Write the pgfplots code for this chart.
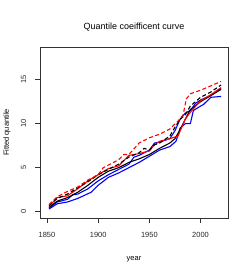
\documentclass[border=0pt]{standalone}
\usepackage{fontspec}
\setmainfont{Liberation Sans}
\usepackage{graphicx}
\usepackage{pgfplots}
\pgfplotsset{compat=1.18}
\begin{document}
\begin{tikzpicture}[x=1bp,y=1bp]
\path[use as bounding box] (0,0) rectangle (249,277);
\begin{axis}[
  at={(40bp,59bp)}, anchor=south west,
  scale only axis, width=188bp, height=171bp,
  xmin=1843.2, xmax=2026.8, ymin=-0.72, ymax=18.72,
  xtick={1850,1900,1950,2000}, ytick={0,5,10,15},
  tick pos=left, tick align=outside, major tick length=5bp,
  axis line style={draw=black!80, line width=0.7pt},
  every tick/.style={draw=black!80, line width=0.7pt},
  /pgf/number format/assume math mode=true,
  /pgf/number format/1000 sep={},
  ticklabel style={font=\fontsize{7.5}{9}\selectfont, text=black!85},
  yticklabel={\rotatebox{90}{\pgfmathprintnumber{\tick}}},
  yticklabel style={anchor=east, inner xsep=0pt, xshift=-8.5bp},
  xticklabel shift=6bp,
  every axis title shift=0pt,
  title={Quantile coeifficent curve},
  title style={at={(axis description cs:0.5,1)}, anchor=center, yshift=20bp, font=\fontsize{9}{11}\selectfont},
  xlabel={year},
  xlabel style={at={(axis description cs:0.5,0)}, anchor=center, yshift=-41bp, font=\fontsize{7.5}{9}\selectfont},
  every axis plot/.append style={line width=1.1pt, line join=round},
  clip=false,
]
% blue solid (lowest)
\addplot[blue] coordinates {(1852,0.3) (1860,0.9) (1870,1.1) (1880,1.5) (1893,2.2) (1900,3.0) (1910,3.9) (1920,4.4) (1930,5.0) (1940,5.6) (1950,6.3) (1960,7.0) (1970,7.4) (1976,8.0) (1980,9.5) (1985,10.0) (1990,10.0) (1993,11.5) (2000,12.0) (2003,12.2) (2010,13.0) (2020,13.1)};
% blue second
\addplot[blue] coordinates {(1852,0.4) (1860,1.1) (1870,1.4) (1875,1.9) (1880,2.0) (1890,2.6) (1900,3.5) (1910,4.2) (1920,4.8) (1930,5.4) (1935,6.2) (1940,6.4) (1950,7.0) (1955,7.8) (1960,7.9) (1970,8.3) (1975,9.2) (1980,10.5) (1985,11.2) (1990,11.5) (1995,12.3) (2000,12.7) (2010,13.2) (2020,14.0)};
% black solid
\addplot[black] coordinates {(1852,0.5) (1860,1.2) (1870,1.6) (1880,2.2) (1890,3.0) (1900,3.9) (1910,4.6) (1920,5.0) (1930,5.6) (1940,6.0) (1950,6.5) (1960,7.2) (1970,7.8) (1975,8.3) (1980,9.3) (1985,10.5) (1990,11.6) (2000,12.5) (2010,13.2) (2020,13.9)};
% red solid
\addplot[red] coordinates {(1852,0.6) (1860,1.6) (1870,1.8) (1880,2.6) (1890,3.5) (1900,4.2) (1910,4.9) (1920,5.2) (1930,6.4) (1940,6.6) (1950,6.9) (1955,7.6) (1960,8.0) (1970,8.3) (1978,8.6) (1985,10.5) (1990,11.3) (2000,12.6) (2010,13.3) (2020,14.1)};
% black dashed
\addplot[black, dash pattern=on 4pt off 2.5pt] coordinates {(1852,0.7) (1860,1.5) (1870,2.0) (1880,2.7) (1890,3.4) (1900,4.2) (1910,4.8) (1920,5.4) (1930,6.2) (1940,6.7) (1945,7.2) (1950,7.0) (1955,7.6) (1960,7.8) (1970,8.6) (1975,9.6) (1980,10.5) (1985,11.0) (1990,12.0) (2000,13.0) (2010,13.6) (2020,14.4)};
% red dashed
\addplot[red, dash pattern=on 4pt off 2.5pt] coordinates {(1852,0.8) (1860,1.7) (1870,2.3) (1880,2.8) (1890,3.6) (1900,4.2) (1905,5.0) (1910,5.3) (1920,5.9) (1925,6.5) (1930,6.5) (1940,7.8) (1950,8.4) (1960,8.8) (1970,9.4) (1978,10.3) (1983,11.0) (1986,12.8) (1990,13.4) (2000,13.8) (2010,14.3) (2020,14.8)};
\end{axis}
\node[rotate=90, font=\fontsize{7.5}{9}\selectfont] at (7bp,144.5bp) {Fitted quantile};
\end{tikzpicture}
\end{document}
